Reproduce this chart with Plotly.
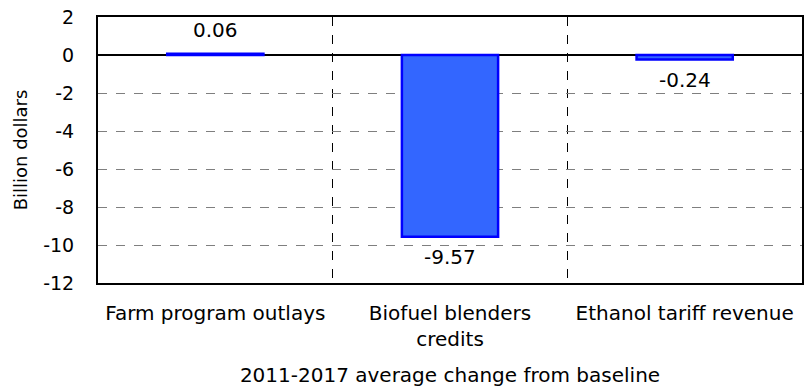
import plotly.graph_objects as go

categories = ["Farm program outlays", "Biofuel blenders<br>credits", "Ethanol tariff revenue"]
values = [0.06, -9.57, -0.24]
value_labels = ["0.06", "-9.57", "-0.24"]
y_ticks = [2, 0, -2, -4, -6, -8, -10, -12]

FONT = "DejaVu Sans"

fig = go.Figure()
fig.add_trace(go.Bar(
    x=categories,
    y=values,
    marker=dict(color="#3366FF", line=dict(color="#0000FF", width=2.5)),
    width=0.41,
    hoverinfo="skip",
))

for cat, val, lab in zip(categories, values, value_labels):
    up = val >= 0
    fig.add_annotation(
        x=cat, y=val, text=lab, showarrow=False,
        yanchor="bottom" if up else "top",
        yshift=10 if up else -6,
        font=dict(family=FONT, size=20, color="black"),
    )

fig.update_layout(
    width=804, height=387,
    margin=dict(l=98, r=2, t=17, b=104),
    plot_bgcolor="white", paper_bgcolor="white",
    showlegend=False,
    font=dict(family=FONT, color="black"),
)

fig.update_xaxes(
    automargin=False,
    tickson="boundaries",
    showgrid=True, gridcolor="black", griddash="dash", gridwidth=1,
    showline=True, linecolor="black", linewidth=2, mirror=True,
    ticks="outside", ticklen=20, tickcolor="rgba(0,0,0,0)",
    ticklabelstandoff=11,
    tickfont=dict(family=FONT, size=20),
    title=dict(text="2011-2017 average change from baseline",
               font=dict(family=FONT, size=20), standoff=19),
)

fig.update_yaxes(
    automargin=False,
    range=[-12, 2],
    tickvals=y_ticks,
    ticktext=[str(v) for v in y_ticks],
    ticklabeloverflow="allow",
    showgrid=True, gridcolor="#7f7f7f", griddash="dash", gridwidth=1,
    zeroline=True, zerolinecolor="black", zerolinewidth=1.5,
    showline=True, linecolor="black", linewidth=2, mirror=True,
    ticks="outside", ticklen=18, tickcolor="rgba(0,0,0,0)",
    tickfont=dict(family=FONT, size=19),
    title=dict(text="Billion dollars", font=dict(family=FONT, size=18), standoff=11),
)

fig.write_html("out.html", config={"displayModeBar": False},
               post_script="document.body.style.margin='0px';")
